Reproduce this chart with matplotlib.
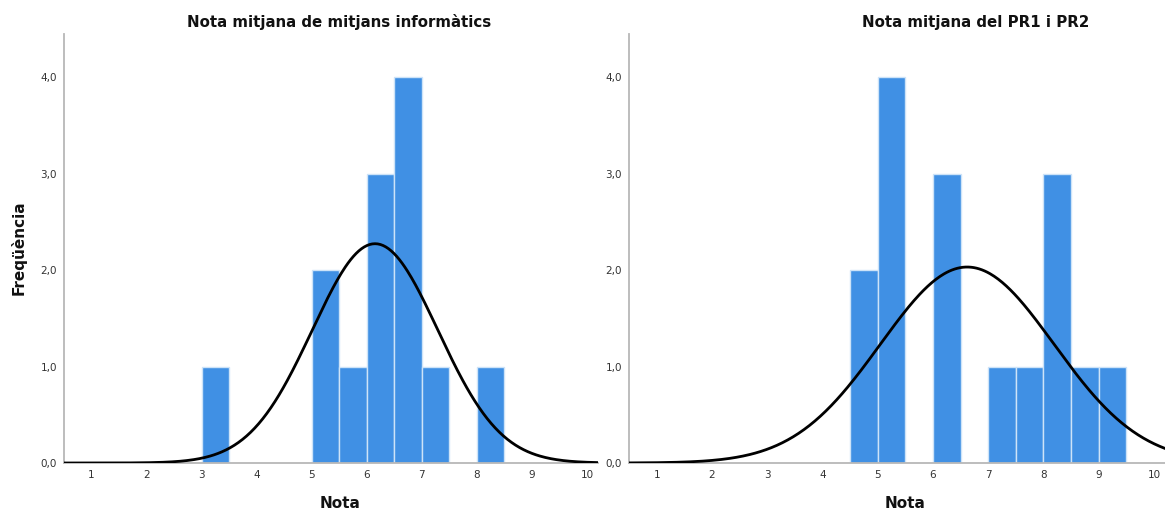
import numpy as np
import matplotlib.pyplot as plt

# histogram bins (start of each 0.5 wide bin) and frequencies
bin_width = 0.5
left_bin_starts = [3.0, 5.0, 5.5, 6.0, 6.5, 7.0, 8.0]
left_counts = [1, 2, 1, 3, 4, 1, 1]
right_bin_starts = [4.5, 5.0, 6.0, 7.0, 7.5, 8.0, 8.5, 9.0]
right_counts = [2, 4, 3, 1, 1, 3, 1, 1]

# normal curve parameters
left_mean, left_sd = 6.15, 1.14
right_mean, right_sd = 6.62, 1.57

x_ticks = [1, 2, 3, 4, 5, 6, 7, 8, 9, 10]
y_ticks = [0, 1, 2, 3, 4]
y_tick_labels = ['0,0', '1,0', '2,0', '3,0', '4,0']

titles = ['Nota mitjana de mitjans informàtics', 'Nota mitjana del PR1 i PR2']

bar_color = '#4090e4'
edge_color = '#cde3f8'
axis_color = '#b8b8b8'


def normal_curve(x, n, mean, sd):
    return n * bin_width / (sd * np.sqrt(2 * np.pi)) * np.exp(-(x - mean) ** 2 / (2 * sd ** 2))


fig = plt.figure(figsize=(11.65, 5.12), dpi=100)
W, H = 1165.0, 512.0
ax_l = fig.add_axes([64 / W, 1 - 463 / H, (598 - 64) / W, (463 - 34) / H])
ax_r = fig.add_axes([629 / W, 1 - 463 / H, (1165 - 629) / W, (463 - 34) / H])

panels = [
    (ax_l, left_bin_starts, left_counts, left_mean, left_sd),
    (ax_r, right_bin_starts, right_counts, right_mean, right_sd),
]

for ax, starts, counts, mean, sd in panels:
    ax.bar(starts, counts, width=bin_width, align='edge', color=bar_color,
           edgecolor=edge_color, linewidth=1.0, zorder=2)
    xs = np.linspace(0.5, 10.3, 400)
    ax.plot(xs, normal_curve(xs, sum(counts), mean, sd), color='black', lw=2.0, zorder=3)
    ax.set_xlim(0.5, 10.2)
    ax.set_ylim(0, 4.45)
    ax.set_xticks(x_ticks)
    ax.set_yticks(y_ticks)
    ax.set_yticklabels(y_tick_labels)
    ax.tick_params(length=0, labelsize=7.5, labelcolor='#333333', pad=5)
    for s in ['top', 'right']:
        ax.spines[s].set_visible(False)
    for s in ['left', 'bottom']:
        ax.spines[s].set_color(axis_color)
        ax.spines[s].set_linewidth(1.3)

fig.text(339 / W, 1 - 22 / H, titles[0], ha='center', va='center', fontsize=10.8, fontweight='bold', color='#111111')
fig.text(976 / W, 1 - 22 / H, titles[1], ha='center', va='center', fontsize=10.8, fontweight='bold', color='#111111')
fig.text(340 / W, 1 - 503 / H, 'Nota', ha='center', va='center', fontsize=11, fontweight='bold', color='#111111')
fig.text(905 / W, 1 - 503 / H, 'Nota', ha='center', va='center', fontsize=11, fontweight='bold', color='#111111')
fig.text(19 / W, 1 - 248 / H, 'Freqüència', ha='center', va='center', rotation=90,
         fontsize=11, fontweight='bold', color='#111111')

fig.savefig('out.png', dpi=100)
